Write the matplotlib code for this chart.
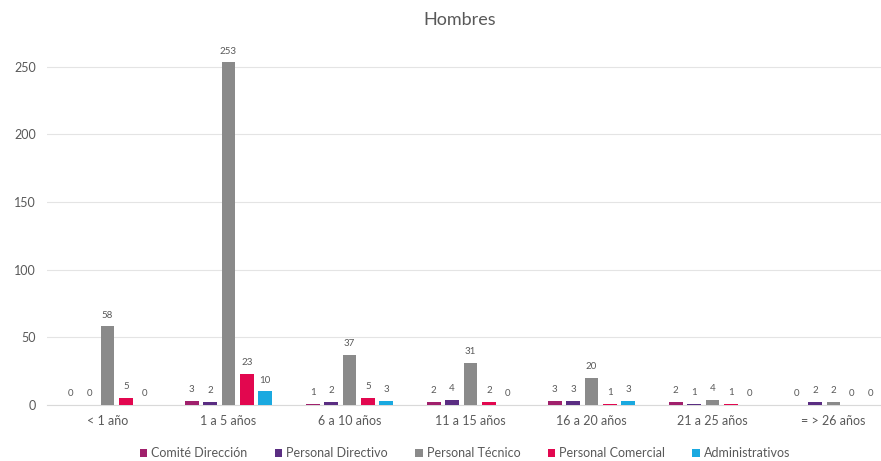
import matplotlib.pyplot as plt
import numpy as np

plt.rcParams['font.family'] = ['Lato', 'DejaVu Sans']

categories = ['< 1 año', '1 a 5 años', '6 a 10 años', '11 a 15 años',
              '16 a 20 años', '21 a 25 años', '= > 26 años']
series_names = ['Comité Dirección', 'Personal Directivo', 'Personal Técnico',
                'Personal Comercial', 'Administrativos']
comite = [0, 3, 1, 2, 3, 2, 0]
directivo = [0, 2, 2, 4, 3, 1, 2]
tecnico = [58, 253, 37, 31, 20, 4, 2]
comercial = [5, 23, 5, 2, 1, 1, 0]
administrativos = [0, 10, 3, 0, 3, 0, 0]
colors = ['#A0206C', '#5A2D82', '#8A8A8A', '#E2074F', '#1AA9E0']

series = [comite, directivo, tecnico, comercial, administrativos]
text_grey = '#595959'

fig = plt.figure(figsize=(8.81, 4.61), dpi=100)
# plot area runs slightly past the right edge of the canvas
ax = fig.add_axes([47 / 881, 1 - 405 / 461, 847 / 881, 375 / 461])

x = np.arange(len(categories))
step = 0.152
width = 0.115
for i, (vals, name, col) in enumerate(zip(series, series_names, colors)):
    pos = x + (i - 2) * step
    bars = ax.bar(pos, vals, width=width, color=col, label=name, zorder=3)
    for b, v in zip(bars, vals):
        ax.annotate(str(v), (b.get_x() + b.get_width() / 2, v),
                    xytext=(0, 5), textcoords='offset points',
                    ha='center', va='bottom', fontsize=7, color=text_grey)

ax.set_xlim(-0.5, len(categories) - 0.5)
ax.set_ylim(0, 277)
ax.set_yticks(range(0, 251, 50))
ax.set_xticks(x)
ax.set_xticklabels(categories)
ax.tick_params(axis='both', length=0, labelsize=9, colors=text_grey)
ax.tick_params(axis='x', pad=7)
ax.tick_params(axis='y', pad=8)
ax.grid(axis='y', color='#E4E4E4', linewidth=0.8, zorder=0)
for side in ['top', 'right', 'left']:
    ax.spines[side].set_visible(False)
ax.spines['bottom'].set_color('#D9D9D9')

fig.text(460 / 881, 1 - 20 / 461, 'Hombres', ha='center', va='center',
         fontsize=13, color=text_grey)

fig.legend(loc='center', bbox_to_anchor=(465 / 881, 1 - 453 / 461), ncol=5,
           frameon=False, fontsize=9, handlelength=0.6, handleheight=0.6,
           handletextpad=0.3, columnspacing=2.2, labelcolor=text_grey)

fig.savefig('out.png', dpi=100, facecolor='white')
